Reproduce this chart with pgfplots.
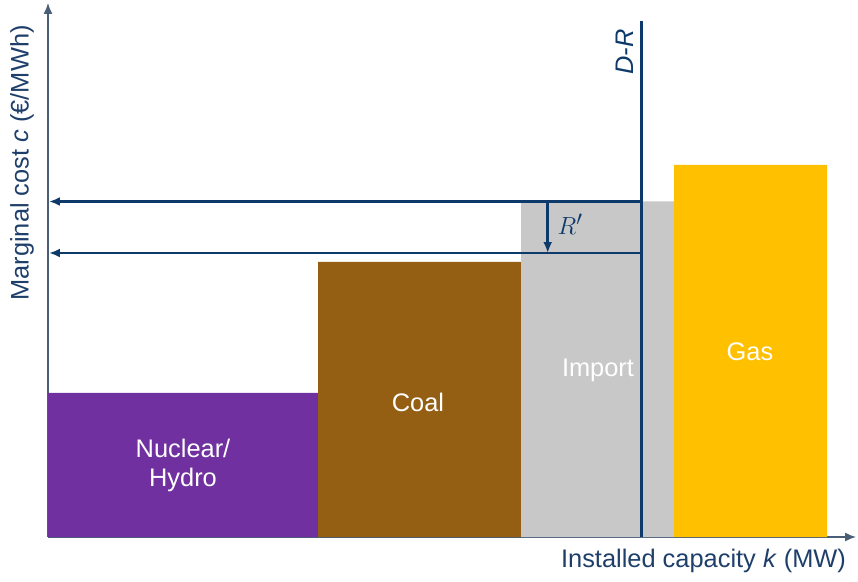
\documentclass[border=0pt]{standalone}
\usepackage{fontspec}
\setmainfont{Liberation Sans}
\usepackage{pgfplots}
\pgfplotsset{compat=1.18}
\usetikzlibrary{arrows.meta}
\definecolor{navy}{HTML}{0E3A6B}
\definecolor{axisc}{HTML}{4A5E78}
\definecolor{txt}{HTML}{1F3F6B}
\definecolor{purp}{HTML}{7030A0}
\definecolor{brown}{HTML}{945E13}
\definecolor{lgrey}{HTML}{C8C8C8}
\definecolor{gold}{HTML}{FFC000}
\newcommand{\fs}{\fontsize{25.5}{29}\selectfont}
\begin{document}
\begin{tikzpicture}
\useasboundingbox (0,0) rectangle (858bp,582bp);
\begin{axis}[
  at={(48bp,45bp)}, anchor=south west,
  scale only axis, width=808bp, height=534bp,
  xmin=0, xmax=808, ymin=0, ymax=534,
  axis x line=bottom, axis y line=left,
  axis line style={color=axisc, line width=1.4pt, -{Latex[length=11pt,width=9pt]}},
  xtick=\empty, ytick=\empty,
  clip=false,
]
\addplot[fill=purp, draw=none] coordinates {(0,0) (0,144) (270,144) (270,0)} \closedcycle;
\addplot[fill=brown, draw=none] coordinates {(270,0) (270,275) (473,275) (473,0)} \closedcycle;
\addplot[fill=lgrey, draw=none] coordinates {(473,0) (473,335.5) (626,335.5) (626,0)} \closedcycle;
\addplot[fill=gold, draw=none] coordinates {(626,0) (626,372) (779,372) (779,0)} \closedcycle;
\addplot[navy, line width=2.6pt] coordinates {(593.7,0) (593.7,516)};
\addplot[navy, line width=2.6pt, -{Latex[length=11pt,width=9pt]}] coordinates {(593.7,335.5) (1,335.5)};
\addplot[navy, line width=2.6pt, -{Latex[length=11pt,width=9pt]}] coordinates {(593.7,284) (1,284)};
\addplot[navy, line width=2.6pt, -{Latex[length=11pt,width=9pt]}] coordinates {(499.7,335.5) (499.7,284)};
\node[white, align=center, font=\fs] at (axis cs:135,72) {Nuclear/\\Hydro};
\node[white, font=\fs] at (axis cs:370,135) {Coal};
\node[white, font=\fs] at (axis cs:550,167) {Import};
\node[white, font=\fs] at (axis cs:702,185) {Gas};
\node[navy, rotate=90, font=\fs\itshape] at (axis cs:577,485) {D-R};
\node[navy, font=\fontsize{31}{34}\selectfont] at (axis cs:522,313) {$R'$};
\node[txt, rotate=90, font=\fs] at (axis cs:-26,374) {Marginal cost \textit{c} (€/MWh)};
\node[txt, font=\fs] at (axis cs:655.5,-24) {Installed capacity \textit{k} (MW)};
\end{axis}
\end{tikzpicture}
\end{document}
